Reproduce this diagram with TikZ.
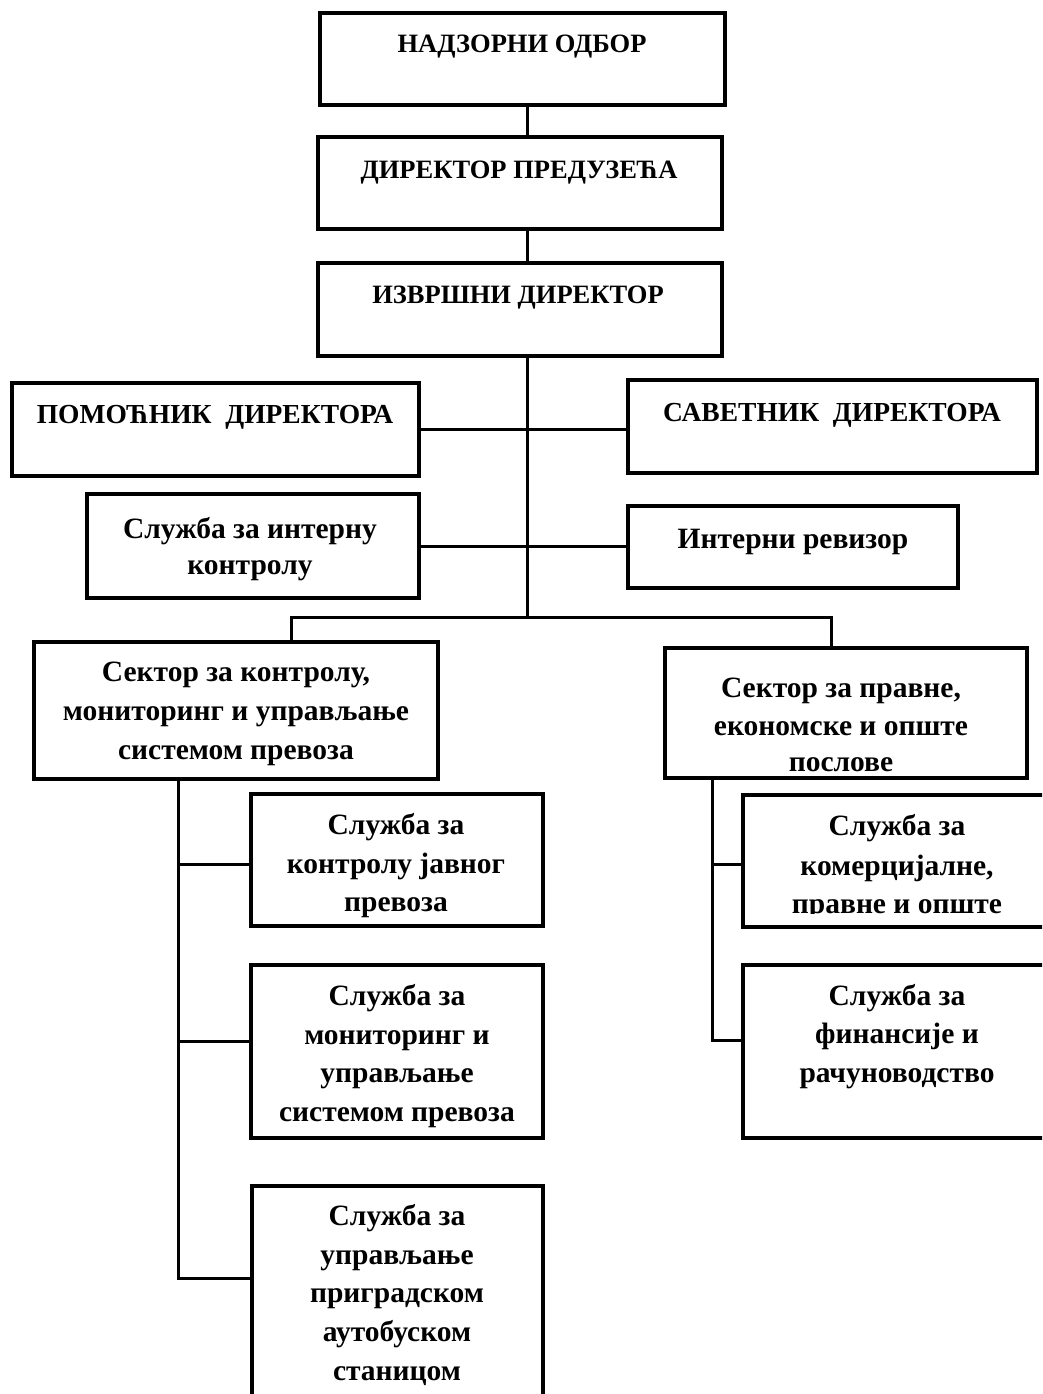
\documentclass[tikz,border=0pt]{standalone}
\usepackage{fontspec}
\setmainfont{Liberation Serif}
\begin{document}
\begin{tikzpicture}[x=1pt,y=-1pt,
  box/.style={draw=black,line width=4pt,rectangle,inner sep=0pt,outer sep=0pt,fill=none},
  conn/.style={draw=black,line width=3pt},
  big/.style={anchor=base,inner sep=0pt,font=\bfseries\fontsize{26.5}{30}\selectfont},
  mid/.style={anchor=base,inner sep=0pt,font=\bfseries\fontsize{27.5}{30}\selectfont},
  txt/.style={anchor=base,inner sep=0pt,font=\bfseries\fontsize{29.5}{34}\selectfont}]
\useasboundingbox (0,0) rectangle (1042,1394);
\clip (0,0) rectangle (1042,1394);
% boxes
\node[box,minimum width=405pt,minimum height=92pt] (n1) at (522.5,59) {};
\node[box,minimum width=404pt,minimum height=92pt] (n2) at (520,183) {};
\node[box,minimum width=404pt,minimum height=93pt] (n3) at (520,309.5) {};
\node[box,minimum width=407pt,minimum height=93pt] (pom) at (215.5,429.5) {};
\node[box,minimum width=409pt,minimum height=93pt] (sav) at (832.5,426.5) {};
\node[box,minimum width=332pt,minimum height=104pt] (int) at (253,546) {};
\node[box,minimum width=330pt,minimum height=82pt] (rev) at (793,547) {};
\node[box,minimum width=404pt,minimum height=137pt] (secL) at (236,710.5) {};
\node[box,minimum width=362pt,minimum height=130pt] (secR) at (846,713) {};
\node[box,minimum width=292pt,minimum height=132pt] (s1) at (397,860) {};
\node[box,minimum width=292pt,minimum height=173pt] (s2) at (397,1051.5) {};
\node[box,minimum width=291pt,minimum height=234pt] (s3) at (397.5,1303) {};
\node[box,minimum width=308pt,minimum height=132pt] (r1) at (897,861) {};
\node[box,minimum width=308pt,minimum height=173pt] (r2) at (897,1051.5) {};
% coordinates
\coordinate (mx) at (527,0);
\coordinate (tc) at (527,617);
\coordinate (bl) at (291,617);
\coordinate (br) at (831,617);
\coordinate (ls) at (178,0);
\coordinate (l1) at (178,864);
\coordinate (l2) at (178,1041);
\coordinate (l3) at (178,1278);
\coordinate (rs) at (712,0);
\coordinate (q1) at (712,864);
\coordinate (q2) at (712,1040);
% connectors
\draw[conn] (mx |- n1.south) -- (mx |- n2.north);
\draw[conn] (mx |- n2.south) -- (mx |- n3.north);
\draw[conn] (tc |- n3.south) -- (tc);
\draw[conn] (pom.east) -- (pom.east -| sav.west);
\draw[conn] (int.east) -- (int.east -| rev.west);
\draw[conn] (bl |- secL.north) -- (bl) -- (br) -- (br |- secR.north);
\draw[conn] (ls |- secL.south) -- (l3) -- (l3 -| s3.west);
\draw[conn] (l1) -- (l1 -| s1.west);
\draw[conn] (l2) -- (l2 -| s2.west);
\draw[conn] (rs |- secR.south) -- (q2) -- (q2 -| r2.west);
\draw[conn] (q1) -- (q1 -| r1.west);
% texts
\node[big] (t1) at (522,53) {НАДЗОРНИ ОДБОР};
\node[big] (t2) at (519,178) {ДИРЕКТОР ПРЕДУЗЕЋА};
\node[big] (t3) at (518,303) {ИЗВРШНИ ДИРЕКТОР};
\node[mid] (tp) at (215,423) {ПОМОЋНИК\ \ ДИРЕКТОРА};
\node[mid] (ts) at (832,421) {САВЕТНИК\ \ ДИРЕКТОРА};
\node[txt] (ti1) at (250,538) {Служба за интерну};
\node[txt] (ti2) at (250,574) {контролу};
\node[txt] (tr) at (793,548) {Интерни ревизор};
\node[txt] (tl1) at (236,681) {Сектор за контролу,};
\node[txt] (tl2) at (236,720) {мониторинг и управљање};
\node[txt] (tl3) at (236,759) {системом превоза};
\node[txt] (tq1) at (841,697) {Сектор за правне,};
\node[txt] (tq2) at (841,735) {економске и опште};
\node[txt] (tq3) at (841,771) {послове};
\node[txt] (ta1) at (396,834) {Служба за};
\node[txt] (ta2) at (396,873) {контролу јавног};
\node[txt] (ta3) at (396,911) {превоза};
\node[txt] (tb1) at (397,1005) {Служба за};
\node[txt] (tb2) at (397,1044) {мониторинг и};
\node[txt] (tb3) at (397,1082) {управљање};
\node[txt] (tb4) at (397,1121) {системом превоза};
\node[txt] (tc1) at (397,1225) {Служба за};
\node[txt] (tc2) at (397,1264) {управљање};
\node[txt] (tc3) at (397,1302) {приградском};
\node[txt] (tc4) at (397,1341) {аутобуском};
\node[txt] (tc5) at (397,1380) {станицом};
\node[txt] (td1) at (897,835) {Служба за};
\node[txt] (td2) at (897,875) {комерцијалне,};
\begin{scope}
\clip (743,795) rectangle (1051,913);
\node[txt] (td3) at (897,913) {правне и опште};
\end{scope}
\node[txt] (te1) at (897,1005) {Служба за};
\node[txt] (te2) at (897,1043) {финансије и};
\node[txt] (te3) at (897,1082) {рачуноводство};
\end{tikzpicture}
\end{document}
